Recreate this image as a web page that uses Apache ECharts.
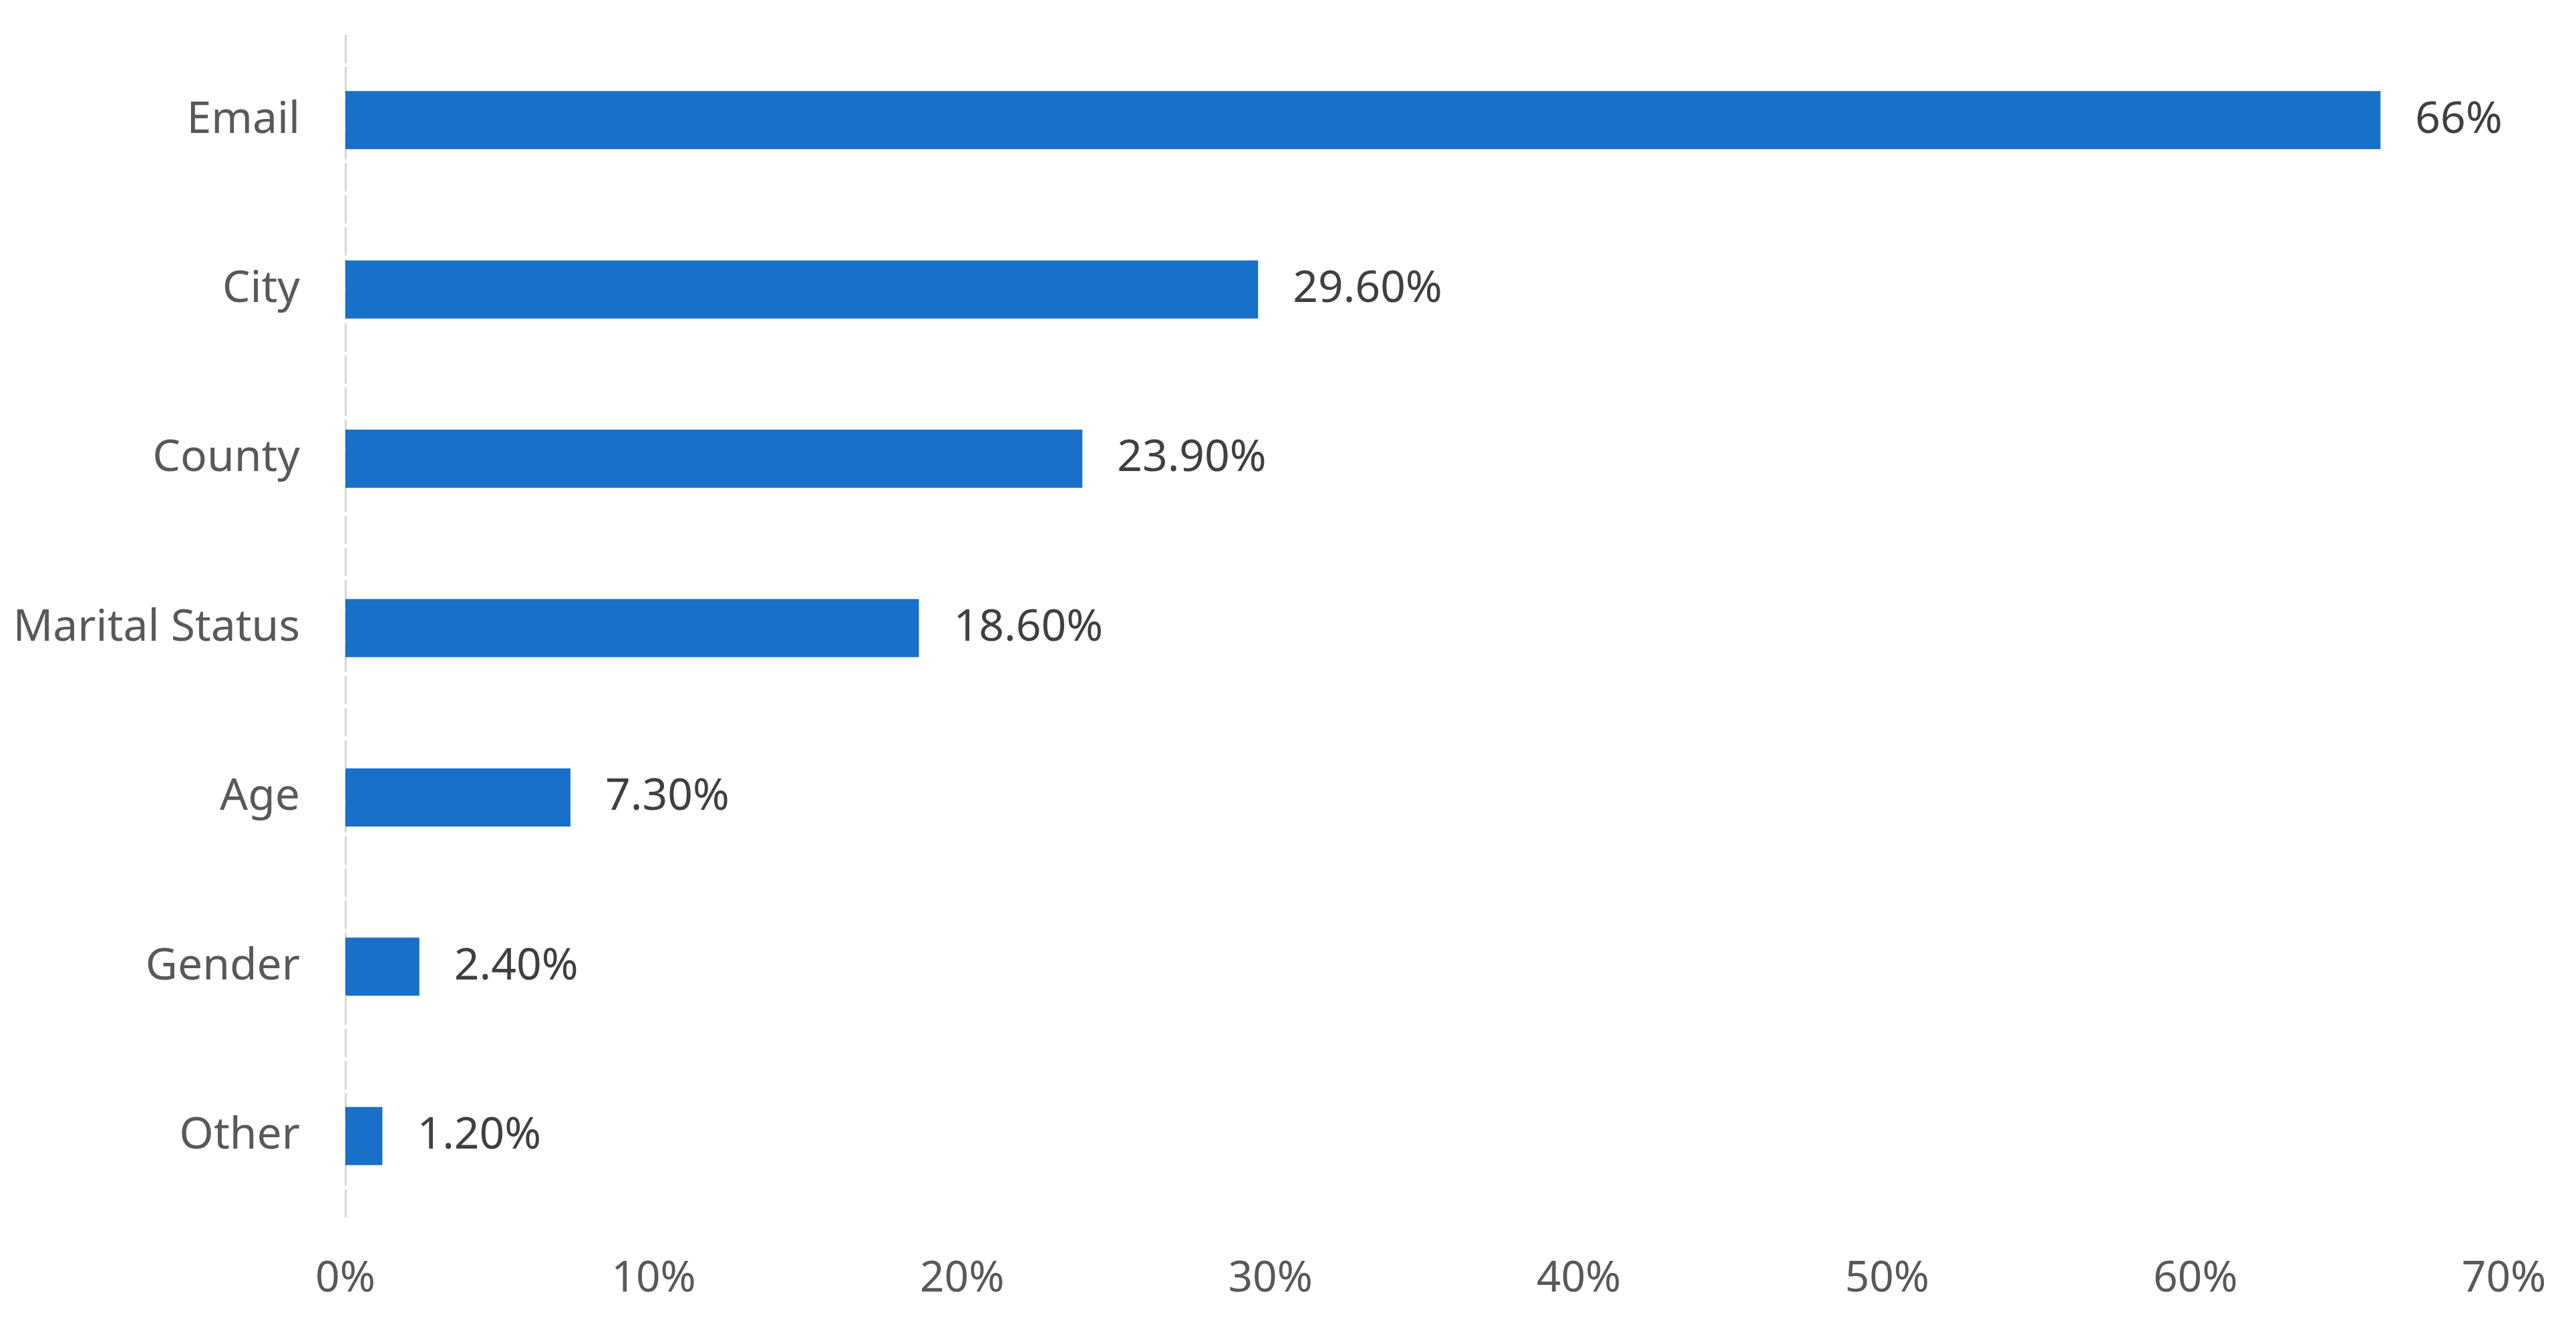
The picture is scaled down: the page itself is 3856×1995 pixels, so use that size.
<!DOCTYPE html>
<html>
<head>
<meta charset="utf-8">
<title>Data fields</title>
<script src="https://cdn.jsdelivr.net/npm/echarts@6/dist/echarts.min.js"></script>
<style>
  html, body { margin: 0; padding: 0; background: #fff; }
  #chart { width: 3856px; height: 1995px; }
</style>
</head>
<body>
<div id="chart"></div>
<script>
// categories, top to bottom
var categories = ['Email', 'City', 'County', 'Marital Status', 'Age', 'Gender', 'Other'];
// share in percent
var values = [66, 29.6, 23.9, 18.6, 7.3, 2.4, 1.2];
// labels as printed next to the bars
var valueLabels = ['66%', '29.60%', '23.90%', '18.60%', '7.30%', '2.40%', '1.20%'];
// x axis ticks
var tickMin = 0;
var tickMax = 70;
var tickStep = 10;

var chart = echarts.init(document.getElementById('chart'));

var option = {
  backgroundColor: '#ffffff',
  animation: false,
  textStyle: { fontFamily: 'Noto Sans' },
  grid: { left: 517, right: 108, top: 53, bottom: 168 },
  xAxis: {
    type: 'value',
    min: tickMin,
    max: tickMax,
    interval: tickStep,
    axisLine: { show: false },
    axisTick: { show: false },
    splitLine: { show: false },
    axisLabel: {
      formatter: '{value}%',
      color: '#595959',
      fontSize: 64,
      margin: 56
    }
  },
  yAxis: {
    type: 'category',
    data: categories,
    inverse: true,
    axisLine: {
      show: true,
      lineStyle: { color: '#d6d6d6', width: 3, type: [40, 8] }
    },
    axisTick: { show: false },
    axisLabel: {
      color: '#595959',
      fontSize: 66,
      margin: 68,
      padding: [26, 0, 0, 0]
    }
  },
  series: [{
    type: 'bar',
    data: values,
    barWidth: 87,
    itemStyle: { color: '#1870c8' },
    label: {
      show: true,
      position: 'right',
      distance: 52,
      color: '#404040',
      fontSize: 66,
      padding: [26, 0, 0, 0],
      formatter: function (p) { return valueLabels[p.dataIndex]; }
    }
  }]
};

chart.setOption(option);
window.addEventListener('resize', function () { chart.resize(); });
</script>
</body>
</html>
